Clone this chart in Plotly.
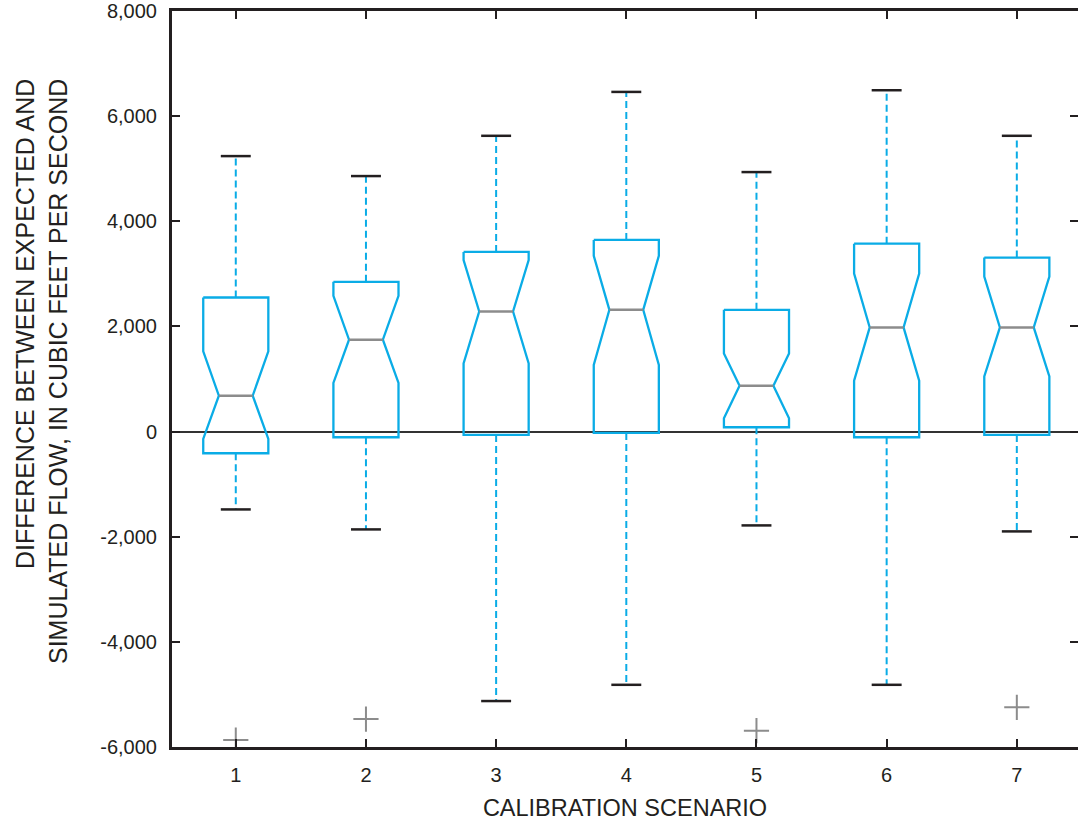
import plotly.graph_objects as go

# ---- data ----
scenarios = [1, 2, 3, 4, 5, 6, 7]
q1 = [-412, -108, -63, -25, 82, -108, -63]
median = [683, 1747, 2284, 2316, 873, 1981, 1981]
q3 = [2550, 2848, 3418, 3645, 2316, 3575, 3310]
notch_lo = [-140, 925, 1297, 1266, 253, 968, 1050]
notch_hi = [1525, 2582, 3260, 3342, 1487, 3006, 2949]
whisker_lo = [-1481, -1861, -5126, -4817, -1785, -4817, -1899]
whisker_hi = [5240, 4860, 5626, 6461, 4936, 6493, 5626]
outlier_x = [1, 2, 5, 7]
outlier_y = [-5867, -5468, -5690, -5246]
y_tickvals = [-6000, -4000, -2000, 0, 2000, 4000, 6000, 8000]
y_ticktext = ["-6,000", "-4,000", "-2,000", "0", "2,000", "4,000", "6,000", "8,000"]

BLUE = "#0AACE6"
GRAY = "#8C8C8C"
BLACK = "#231F20"
FONT = "Liberation Sans, Arial, sans-serif"

half_w = 0.25      # half box width
notch_w = 0.13     # half width at the median
cap_w = 0.115      # half cap width

fig = go.Figure()

for i, x in enumerate(scenarios):
    bx = [x - half_w, x + half_w, x + half_w, x + notch_w, x + half_w, x + half_w,
          x - half_w, x - half_w, x - notch_w, x - half_w, x - half_w]
    by = [q3[i], q3[i], notch_hi[i], median[i], notch_lo[i], q1[i],
          q1[i], notch_lo[i], median[i], notch_hi[i], q3[i]]
    fig.add_trace(go.Scatter(x=bx, y=by, mode="lines",
                             line=dict(color=BLUE, width=2.3),
                             hoverinfo="skip", showlegend=False))
    fig.add_trace(go.Scatter(x=[x, x, None, x, x],
                             y=[q3[i], whisker_hi[i], None, q1[i], whisker_lo[i]],
                             mode="lines",
                             line=dict(color=BLUE, width=2, dash="7px,4px"),
                             hoverinfo="skip", showlegend=False))
    fig.add_trace(go.Scatter(x=[x - cap_w, x + cap_w, None, x - cap_w, x + cap_w],
                             y=[whisker_hi[i], whisker_hi[i], None, whisker_lo[i], whisker_lo[i]],
                             mode="lines",
                             line=dict(color=BLACK, width=2.5),
                             hoverinfo="skip", showlegend=False))
    fig.add_trace(go.Scatter(x=[x - notch_w, x + notch_w], y=[median[i], median[i]],
                             mode="lines", line=dict(color=GRAY, width=2.5),
                             hoverinfo="skip", showlegend=False))

fig.add_trace(go.Scatter(x=outlier_x, y=outlier_y, mode="markers",
                         marker=dict(symbol="cross-thin", size=18,
                                     line=dict(color=GRAY, width=2)),
                         hoverinfo="skip", showlegend=False))

fig.add_trace(go.Scatter(x=[scenarios[0]], y=[0], yaxis="y2", mode="markers",
                         marker=dict(opacity=0), hoverinfo="skip", showlegend=False))

W, H = 1078, 826
ML, MT, MB, MR = 172, 11, 79, 0
plot_w = W - ML - MR
plot_h = H - MT - MB

fig.update_layout(
    width=W, height=H,
    margin=dict(l=ML, r=MR, t=MT, b=MB, autoexpand=False),
    plot_bgcolor="white", paper_bgcolor="white",
    font=dict(family=FONT, color=BLACK),
    xaxis=dict(range=[0.51, 7.47], tickvals=scenarios, ticktext=[str(s) for s in scenarios],
               ticks="inside", ticklen=8, tickwidth=2, tickcolor=BLACK,
               showline=True, linecolor=BLACK, linewidth=3, mirror="ticks",
               showgrid=False, zeroline=False,
               tickfont=dict(size=20, family=FONT, color=BLACK),
               ticklabelstandoff=8,
               title=dict(text="CALIBRATION SCENARIO", font=dict(size=23.5, family=FONT, color=BLACK),
                          standoff=15),
               automargin=False),
    yaxis=dict(range=[-6000, 8000], tickvals=y_tickvals, ticktext=y_ticktext,
               ticks="inside", ticklen=8, tickwidth=2, tickcolor=BLACK,
               showline=True, linecolor=BLACK, linewidth=3, mirror=False,
               showgrid=False, zeroline=True, zerolinecolor="#333333", zerolinewidth=2,
               tickfont=dict(size=20, family=FONT, color=BLACK),
               ticklabelstandoff=8, ticklabeloverflow="allow",
               automargin=False),
    yaxis2=dict(range=[-6000, 8000], tickvals=y_tickvals, overlaying="y", side="right",
                ticks="inside", ticklen=8, tickwidth=2, tickcolor=BLACK,
                showline=False, showgrid=False, zeroline=False,
                showticklabels=False, automargin=False),
    annotations=[dict(
        text="DIFFERENCE BETWEEN EXPECTED AND<br>SIMULATED FLOW, IN CUBIC FEET PER SECOND",
        textangle=-90, xref="paper", yref="paper",
        x=(41 - ML) / plot_w, y=(H - MB - 372) / plot_h,
        xanchor="center", yanchor="middle", align="right", showarrow=False,
        font=dict(size=25, family=FONT, color=BLACK))],
)

# remove the browser's default 8px body margin so the figure fills the window exactly
fig.write_html("out.html", config={"displayModeBar": False},
               post_script="document.body.style.margin='0';")
